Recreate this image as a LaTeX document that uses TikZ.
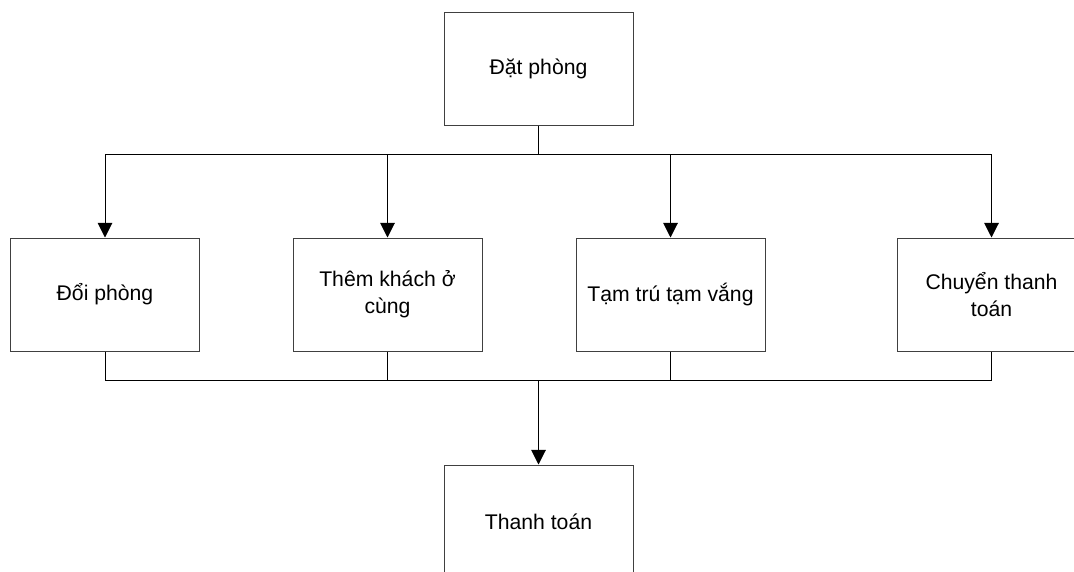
\documentclass[tikz,border=0pt]{standalone}
\usepackage{fontspec}
\setmainfont{Liberation Sans}
\usetikzlibrary{arrows.meta}

\begin{document}
\begin{tikzpicture}[x=0.75pt, y=-0.75pt, line width=0.75pt, >={Triangle[length=11pt,width=11pt]}]
	
	\clip (0,0) rectangle (1074,571);
	
	\begin{scope}[every node/.style={draw=black!75,rectangle,minimum width=141.75pt,minimum height=84.75pt,align=center,font=\fontsize{15.9}{20.3}\selectfont}]
		\node (dat) at (538.5,68.5) {Đặt phòng};
		
		\node (doi) at (105,294.5) {Đổi phòng};
		\node (them) at (387.5,294.5) {Thêm khách ở\\cùng};
		\node (tamtru) at (670.5,294.5) {Tạm trú tạm vắng};
		\node (chuyen) at (991.5,294.5) {Chuyển thanh\\toán};
		
		\node (thanhtoan) at (538.5,521.5) {Thanh toán};
	\end{scope}
	
	\coordinate (bus top) at (538.5,154);
	\coordinate (bus bot) at (538.5,380);
	
	\draw (dat.south) -- (bus top);
	\foreach \n in {doi,them,tamtru,chuyen}
		\draw[->] (bus top) -| (\n.north);
	
	\foreach \n in {doi,them,tamtru,chuyen}
		\draw (\n.south) |- (bus bot);
	\draw[->] (bus bot) -- (thanhtoan.north);
	
\end{tikzpicture}
\end{document}
